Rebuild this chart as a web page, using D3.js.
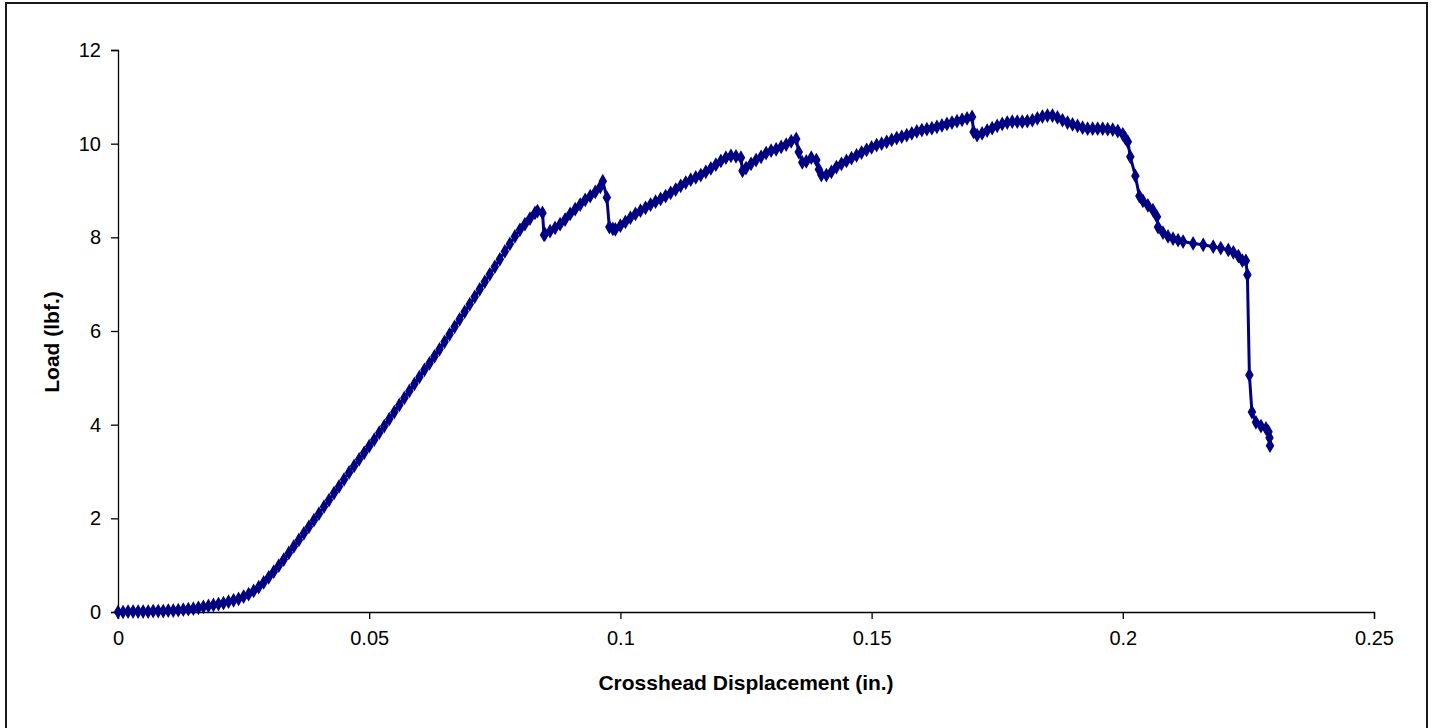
<!DOCTYPE html>
<html>
<head>
<meta charset="utf-8">
<script src="https://cdn.jsdelivr.net/npm/d3@7"></script>
<style>
html,body{margin:0;padding:0;background:#fff;}
svg{display:block;}
text{font-family:"Liberation Sans", Arial, sans-serif;}
</style>
</head>
<body>
<svg id="chart" width="1433" height="728"></svg>
<script>
// Crosshead displacement (in.)
const displacement = [
0,0.001,0.002,0.003,0.004,0.005,0.006,0.007,0.008,0.009,
0.010,0.011,0.012,0.013,0.014,0.015,0.016,0.017,0.018,0.019,
0.020,0.021,0.022,0.023,0.024,0.025,0.026,0.027,0.028,0.029,
0.030,0.031,0.032,0.033,0.034,0.035,0.036,0.037,0.038,0.039,
0.040,0.041,0.042,0.043,0.044,0.045,0.046,0.047,0.048,0.049,
0.050,0.051,0.052,0.053,0.054,0.055,0.056,0.057,0.058,0.059,
0.060,0.061,0.062,0.063,0.064,0.065,0.066,0.067,0.068,0.069,
0.070,0.071,0.072,0.073,0.074,0.075,0.076,0.077,0.078,0.079,
0.080,0.081,0.082,0.083,0.0835,0.0845,0.0848,
0.085,0.086,0.087,0.088,0.089,0.090,0.091,0.092,0.093,0.094,0.095,0.096,0.0965,
0.0973,0.0978,0.0985,0.099,
0.100,0.101,0.102,0.103,0.104,0.105,0.106,0.107,0.108,0.109,
0.110,0.111,0.112,0.113,0.114,0.115,0.116,0.117,0.118,0.119,
0.120,0.121,0.122,0.123,0.124,0.1243,0.125,0.126,0.127,0.128,0.129,
0.130,0.131,0.132,0.133,0.134,0.135,0.1355,0.1362,0.137,0.138,0.139,0.1395,
0.140,0.141,0.142,0.143,0.144,0.145,0.146,0.147,0.148,0.149,
0.150,0.151,0.152,0.153,0.154,0.155,0.156,0.157,0.158,0.159,
0.160,0.161,0.162,0.163,0.164,0.165,0.166,0.167,0.168,0.169,
0.170,0.1703,0.171,0.172,0.173,0.174,0.175,0.176,0.177,0.178,0.179,
0.180,0.181,0.182,0.183,0.184,0.185,0.186,0.187,0.188,0.189,
0.190,0.191,0.192,0.193,0.194,0.195,0.196,0.197,0.198,0.199,
0.200,0.2005,0.201,0.2015,0.2025,0.2033,0.204,0.205,0.206,0.2068,0.207,0.208,0.209,
0.210,0.211,0.212,0.214,0.216,0.218,0.2195,0.221,0.222,0.223,0.2238,0.2245,0.2248,
0.2252,0.2257,0.2265,0.2275,0.2285,0.229,0.2292,0.2293
];
// Load (lbf.)
const load = [
0,0.00,0.01,0.01,0.01,0.01,0.01,0.02,0.02,0.02,
0.03,0.03,0.04,0.05,0.06,0.07,0.09,0.11,0.13,0.15,
0.17,0.19,0.22,0.25,0.28,0.33,0.38,0.45,0.53,0.63,
0.74,0.86,0.99,1.12,1.26,1.40,1.54,1.68,1.82,1.96,
2.10,2.25,2.39,2.54,2.68,2.83,2.98,3.12,3.26,3.40,
3.54,3.68,3.83,3.97,4.12,4.27,4.42,4.57,4.72,4.87,
5.02,5.17,5.31,5.46,5.61,5.77,5.93,6.09,6.25,6.41,
6.57,6.73,6.89,7.05,7.21,7.37,7.53,7.70,7.86,8.02,
8.16,8.28,8.40,8.52,8.56,8.52,8.05,
8.07,8.13,8.20,8.28,8.38,8.50,8.60,8.70,8.80,8.88,8.97,9.08,9.20,
8.85,8.22,8.18,8.17,
8.25,8.33,8.42,8.50,8.57,8.63,8.70,8.76,8.82,8.88,
8.95,9.02,9.10,9.17,9.23,9.28,9.33,9.40,9.47,9.55,
9.63,9.70,9.74,9.73,9.70,9.42,9.48,9.57,9.65,9.72,9.80,
9.85,9.88,9.93,9.98,10.05,10.10,9.82,9.60,9.62,9.70,9.65,9.45,
9.33,9.33,9.40,9.50,9.57,9.63,9.69,9.75,9.81,9.87,
9.92,9.97,10.00,10.04,10.08,10.12,10.15,10.18,10.22,10.26,
10.29,10.31,10.33,10.36,10.39,10.42,10.45,10.48,10.51,10.54,
10.57,10.25,10.18,10.22,10.28,10.33,10.38,10.42,10.45,10.47,10.47,
10.47,10.48,10.50,10.54,10.58,10.60,10.60,10.56,10.50,10.45,
10.41,10.38,10.34,10.32,10.32,10.32,10.32,10.31,10.30,10.27,
10.20,10.12,10.04,9.72,9.31,8.88,8.78,8.68,8.58,8.44,8.22,8.10,8.02,
7.97,7.94,7.91,7.87,7.84,7.80,7.77,7.73,7.68,7.60,7.50,7.50,7.20,
5.06,4.27,4.05,3.97,3.92,3.85,3.72,3.55
];
const xTicks = [0,0.05,0.1,0.15,0.2,0.25];
const yTicks = [0,2,4,6,8,10,12];
const xTitle = "Crosshead Displacement (in.)";
const yTitle = "Load (lbf.)";

const data = displacement.map((d,i)=>({x:d, y:load[i]}));

const svg = d3.select("#chart");
const mLeft = 118, mRight = 1374, mTop = 50, mBottom = 612;
const x = d3.scaleLinear().domain([0,0.25]).range([mLeft,mRight]);
const y = d3.scaleLinear().domain([0,12]).range([mBottom,mTop]);

// outer frame
svg.append("rect").attr("x",6).attr("y",3).attr("width",1421).attr("height",740)
  .attr("fill","none").attr("stroke","#1a1a1a").attr("stroke-width",2);

// axes
const xAxis = d3.axisBottom(x).tickValues(xTicks).tickSize(7).tickPadding(12)
  .tickFormat(d=>String(+d.toFixed(2)));
const gx = svg.append("g").attr("transform",`translate(0,${mBottom})`).call(xAxis);
gx.select(".domain").attr("stroke","#000").attr("stroke-width",1.3);
gx.selectAll(".tick line").attr("stroke","#000").attr("stroke-width",1.3);
gx.selectAll(".tick text").attr("font-size",20).attr("fill","#000")
  .attr("font-family","Liberation Sans, Arial, sans-serif");

const yAxis = d3.axisLeft(y).tickValues(yTicks).tickSize(7).tickPadding(10);
const gy = svg.append("g").attr("transform",`translate(${mLeft},0)`).call(yAxis);
gy.select(".domain").attr("stroke","#000").attr("stroke-width",1.3);
gy.selectAll(".tick line").attr("stroke","#000").attr("stroke-width",1.3);
gy.selectAll(".tick text").attr("font-size",20).attr("fill","#000")
  .attr("font-family","Liberation Sans, Arial, sans-serif");

// axis titles
svg.append("text").attr("x",(mLeft+mRight)/2).attr("y",690).attr("text-anchor","middle")
  .attr("font-size",21).attr("font-weight","bold").text(xTitle);
svg.append("text").attr("transform","translate(59,342) rotate(-90)").attr("text-anchor","middle")
  .attr("font-size",21).attr("font-weight","bold").text(yTitle);

// series line
const line = d3.line().x(d=>x(d.x)).y(d=>y(d.y));
svg.append("path").datum(data).attr("d",line).attr("fill","none")
  .attr("stroke","#000080").attr("stroke-width",3);

// diamond markers
const sym = d3.symbol().type(d3.symbolDiamond).size(44);
svg.append("g").selectAll("path").data(data).join("path")
  .attr("transform",d=>`translate(${x(d.x)},${y(d.y)})`)
  .attr("d",sym).attr("fill","#000080").attr("stroke","#000080").attr("stroke-width",1.2);
</script>
</body>
</html>
